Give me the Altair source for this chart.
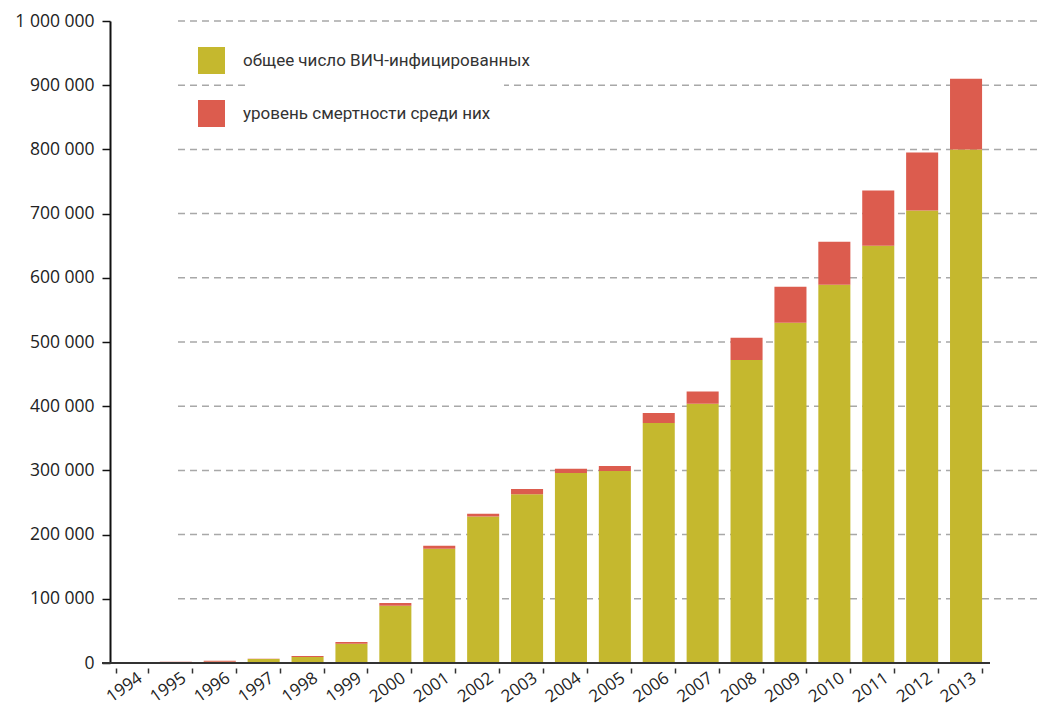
import altair as alt
import pandas as pd

years = ["1994", "1995", "1996", "1997", "1998", "1999", "2000", "2001", "2002", "2003",
         "2004", "2005", "2006", "2007", "2008", "2009", "2010", "2011", "2012", "2013"]
infected = [900, 1100, 2100, 6200, 9400, 30000, 89000, 178000, 228000, 263000,
            296000, 299000, 374000, 404000, 472000, 530000, 589000, 650000, 705000, 800000]
deaths = [200, 900, 1500, 300, 1500, 2700, 4500, 4500, 4500, 8000,
          6500, 8000, 15500, 19000, 34500, 56000, 67000, 86000, 90000, 110000]
series_names = ["общее число ВИЧ-инфицированных", "уровень смертности среди них"]
series_colors = ["#C5B82E", "#DC5C4E"]
y_ticks = [0, 100000, 200000, 300000, 400000, 500000, 600000, 700000, 800000, 900000, 1000000]

rows = []
for i, yr in enumerate(years):
    rows.append({"year": yr, "series": series_names[0], "value": infected[i], "ord": 0})
    rows.append({"year": yr, "series": series_names[1], "value": deaths[i], "ord": 1})
df = pd.DataFrame(rows)

W, H = 878, 642

y_scale = alt.Scale(domain=[0, 1000000], nice=False)
y_axis = alt.Axis(title=None, values=y_ticks, grid=False,
                  domainColor="#111", domainWidth=2,
                  tickSize=8, tickWidth=1.5, tickColor="#111",
                  labelFont="Open Sans", labelFontSize=17.5, labelColor="#222",
                  labelPadding=8,
                  labelExpr="replace(format(datum.value, ','), regexp(',', 'g'), ' ')")

grid = alt.Chart(pd.DataFrame({"value": y_ticks[1:]})).mark_rule(
    color="#a8a8a8", strokeWidth=1.5, strokeDash=[7, 5]
).encode(
    y=alt.Y("value:Q", scale=y_scale, axis=y_axis),
    x=alt.value(68), x2=alt.value(931),
)

white = alt.Chart(alt.Data(values=[{}])).mark_rect(color="white").encode(
    x=alt.value(135), x2=alt.value(394), y=alt.value(15), y2=alt.value(110)
)

bars = alt.Chart(df).mark_bar().encode(
    x=alt.X("year:N", sort=years,
            scale=alt.Scale(paddingInner=0.27, paddingOuter=0.135),
            axis=alt.Axis(title=None, domain=False, offset=5, tickBand="extent",
                          tickSize=5, tickWidth=1.5, tickColor="#333",
                          labelAngle=-35, labelAlign="right", labelBaseline="middle",
                          labelFont="Open Sans", labelFontSize=17, labelColor="#222",
                          labelPadding=3, labelOffset=8)),
    y=alt.Y("value:Q", stack="zero", scale=y_scale, axis=y_axis),
    color=alt.Color("series:N",
                    scale=alt.Scale(domain=series_names, range=series_colors),
                    legend=alt.Legend(title=None, orient="none", legendX=88, legendY=26,
                                      direction="vertical", symbolType="square",
                                      symbolSize=729, symbolStrokeWidth=0,
                                      labelFont="Roboto", labelFontSize=17,
                                      labelColor="#333", labelOffset=18, rowPadding=26,
                                      padding=0, labelLimit=400)),
    order=alt.Order("ord:Q"),
)

baseline = alt.Chart(pd.DataFrame({"value": [0]})).mark_rule(color="#333", strokeWidth=2).encode(
    y=alt.Y("value:Q", scale=y_scale, axis=y_axis),
    x=alt.value(-8), x2=alt.value(W + 2),
)

chart = alt.layer(grid, white, bars, baseline).properties(
    width=W, height=H,
    padding={"left": 110, "top": 21, "right": 53, "bottom": 45},
    autosize=alt.AutoSizeParams(type="none"),
).configure_view(stroke=None)

chart.save("out.html", embed_options={"renderer": "svg", "actions": False})
